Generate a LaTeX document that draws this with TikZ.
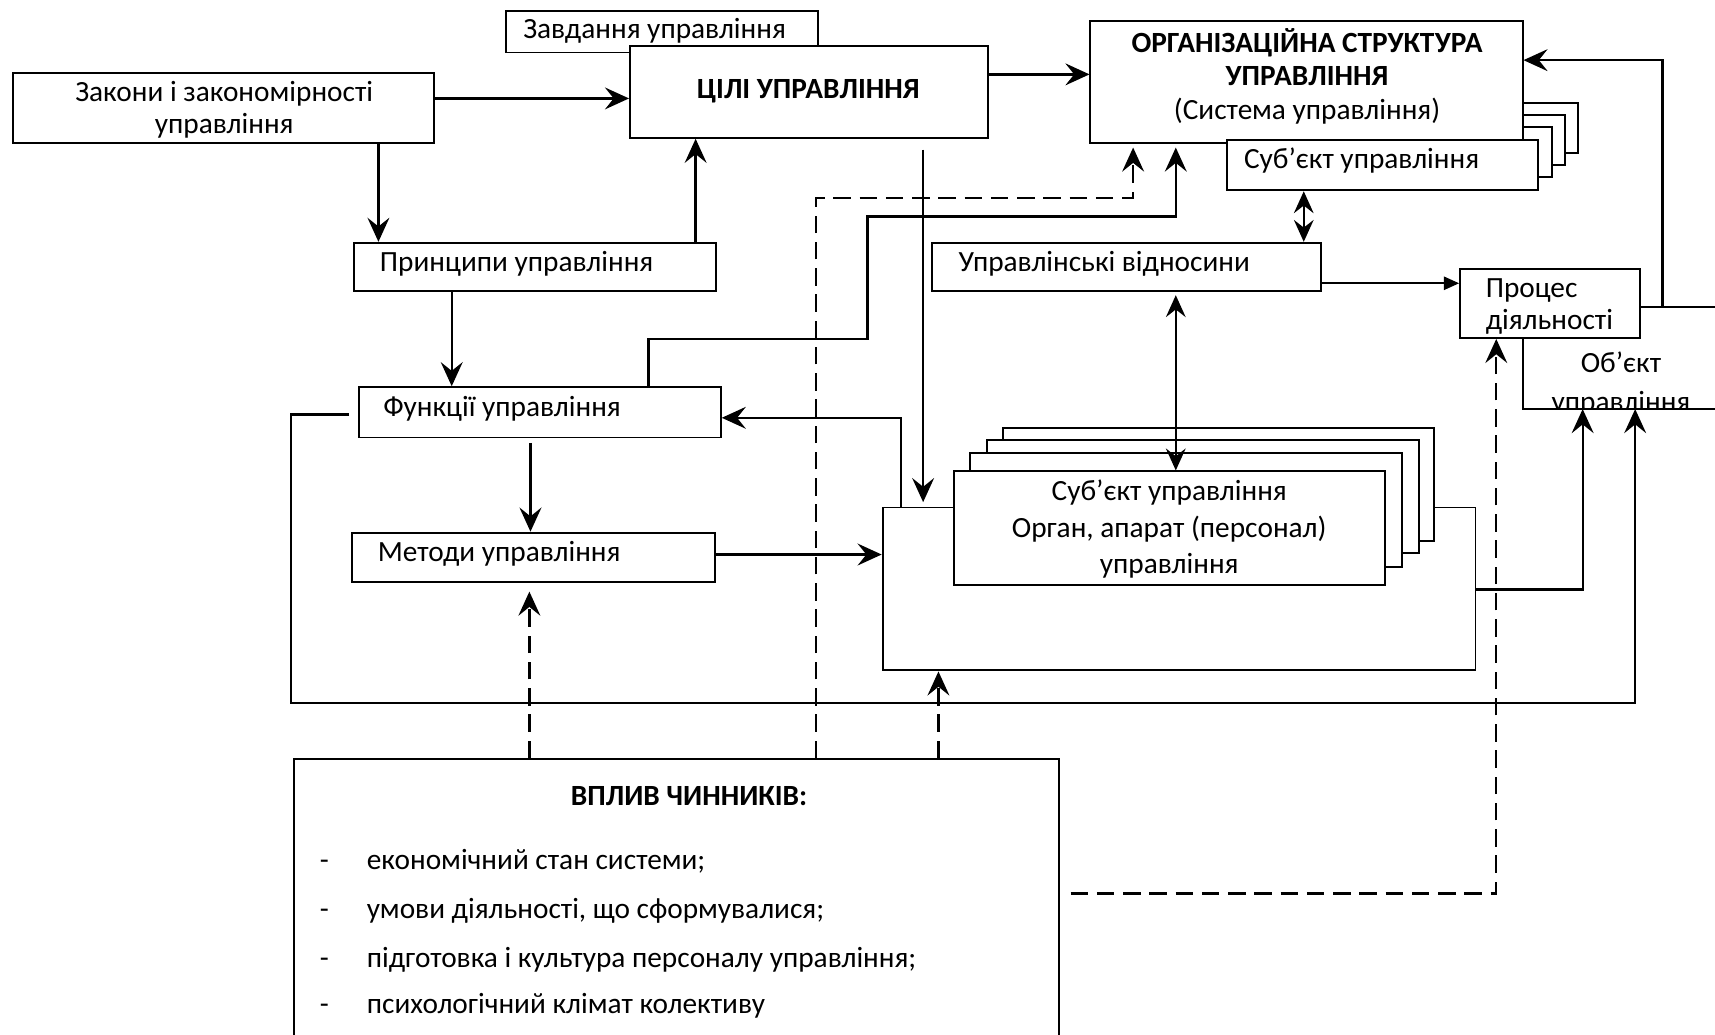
\documentclass[tikz,border=0pt]{standalone}
\usepackage{fontspec}
\setmainfont{Carlito}
\usetikzlibrary{arrows.meta,fit}
\newcommand\fs{\fontsize{13.4}{15}\selectfont}
\begin{document}
\begin{tikzpicture}[x=0.5pt,y=-0.5pt,
  box/.style={draw, line width=0.9pt, fill=white, inner sep=0pt, rectangle},
  t/.style={inner sep=0pt, font=\fs},
  tb/.style={inner sep=0pt, font=\fs\bfseries},
  arr/.style={-{Stealth[length=11pt,width=10pt,inset=4pt]}, line width=1.05pt},
  darr/.style={{Stealth[length=10pt,width=9pt,inset=3.5pt]}-{Stealth[length=10pt,width=9pt,inset=3.5pt]}, line width=1.05pt},
  tarr/.style={-{Triangle[length=7pt,width=6pt]}, line width=1.05pt},
  dsh/.style={dash pattern=on 8pt off 4pt},
  ln/.style={line width=0.9pt}]
\useasboundingbox (0,0) rectangle (1568,946);
\fill[white] (0,0) rectangle (1568,946);

% ---------- boxes ----------
\node[box, fit={(463,10) (748,48)}] (zav) {};
\node[box, fit={(12,67) (397,131)}] (zak) {};
\node[box, fit={(576,42) (903,126)}] (cili) {};
\node[box, fit={(1158,94) (1443,140)}] (orgl3) {};
\node[box, fit={(1146,105) (1431,151)}] (orgl2) {};
\node[box, fit={(1134,116) (1419,162)}] (orgl1) {};
\node[box, fit={(997,19) (1392,131)}] (org) {};
\node[box, fit={(1122,128) (1406,174)}] (subj) {};
\node[box, fit={(852,222) (1208,266)}] (upr) {};
\node[box, fit={(324,222) (655,266)}] (prin) {};
\node[box, fit={(1335,246) (1499,309)}] (proc) {};
\node[box, fit={(328,354) (659,400)}] (fun) {};
\node[box, fit={(322,487) (654,532)}] (met) {};
\node[box, fit={(807,464) (1349,613)}] (big) {};
\node[box, fit={(917,391) (1311,495)}] (sl3) {};
\node[box, fit={(902,402) (1297,506)}] (sl2) {};
\node[box, fit={(887,414) (1282,518)}] (sl1) {};
\node[box, fit={(872,431) (1266,535)}] (sfront) {};
\node[box, fit={(269,694) (968,990)}] (vpl) {};

% ---------- texts ----------
\node[t, anchor=base] (zak1) at (205,93) {Закони і закономірності};
\node[t, anchor=base] (zak2) at (205,122) {управління};
\node[t, anchor=base west] (zavt) at (478,35) {Завдання управління};
\node[tb, anchor=base] (cilit) at (739,90) {ЦІЛІ УПРАВЛІННЯ};
\node[tb, anchor=base] (org1) at (1195,48) {ОРГАНІЗАЦІЙНА СТРУКТУРА};
\node[tb, anchor=base] (org2) at (1195,78) {УПРАВЛІННЯ};
\node[t, anchor=base] (org3) at (1195,109) {(Система управління)};
\node[t, anchor=base west] (subjt) at (1137,154) {Суб’єкт управління};
\node[t, anchor=base west] (uprt) at (876,248) {Управлінські відносини};
\node[t, anchor=base west] (print) at (347,248) {Принципи управління};
\node[t, anchor=base west] (proc1) at (1358,272) {Процес};
\node[t, anchor=base west] (proc2) at (1358,301) {діяльності};
\node[t, anchor=base] (obj1) at (1482,341) {Об’єкт};
\begin{scope}
\clip (1393,350) rectangle (1568,374);
\node[t, anchor=base] (obj2) at (1482,376) {управління};
\end{scope}
\node[t, anchor=base west] (funt) at (350,381) {Функції управління};
\node[t, anchor=base west] (mett) at (345,513) {Методи управління};
\node[t, anchor=base] (s1) at (1069,458) {Суб’єкт управління};
\node[t, anchor=base] (s2) at (1069,491) {Орган, апарат (персонал)};
\node[t, anchor=base] (s3) at (1069,524) {управління};
\node[tb, anchor=base] (vplt) at (630,736) {ВПЛИВ ЧИННИКІВ:};
\node[t, anchor=base west] (d1) at (292,795) {-};
\node[t, anchor=base west] (i1) at (335,795) {економічний стан системи;};
\node[t, anchor=base west] (d2) at (292,840) {-};
\node[t, anchor=base west] (i2) at (335,840) {умови діяльності, що сформувалися;};
\node[t, anchor=base west] (d3) at (292,885) {-};
\node[t, anchor=base west] (i3) at (335,885) {підготовка і культура персоналу управління;};
\node[t, anchor=base west] (d4) at (292,927) {-};
\node[t, anchor=base west] (i4) at (335,927) {психологічний клімат колективу};

% ---------- object of management (open shape) ----------
\draw[ln] (proc.south -| 1392,0) -- (1392,374) -- (1568,374);
\draw[ln] (proc.east |- 0,281) -- (1568,281);

% ---------- connectors ----------
\draw[arr] (zak.east |- 0,90) -- (cili.west |- 0,90);
\draw[arr] (zak.south -| 346,0) -- (prin.north -| 346,0);
\draw[arr] (prin.north -| 636,0) -- (cili.south -| 636,0);
\draw[arr] (prin.south -| 413,0) -- (fun.north -| 413,0);
\draw[arr, shorten <=2pt] (fun.south -| 485,0) -- (met.north -| 485,0);
\draw[arr] (met.east |- 0,507) -- (big.west |- 0,507);
\draw[arr] (cili.east |- 0,68) -- (org.west |- 0,68);
\draw[arr, shorten <=5pt, shorten >=2pt] (cili.south -| 844,0) -- (big.north -| 844,0);
\draw[arr] (big.north -| 824,0) -- (824,382) -- (fun.east |- 0,382);
\draw[arr, shorten >=1.5pt] (fun.north -| 593,0) -- (593,310) -- (793,310) -- (793,198) -- (1075,198) -- (org.south -| 1075,0);
\draw[arr, dsh, shorten >=1.5pt] (vpl.north -| 746,0) -- (746,181) -- (1036,181) -- (org.south -| 1036,0);
\draw[arr, dsh, shorten >=4pt] (vpl.north -| 484,0) -- (met.south -| 484,0);
\draw[arr, dsh] (vpl.north -| 858,0) -- (big.south -| 858,0);
\draw[arr, dsh, shorten <=5pt] (vpl.east |- 0,817) -- (1368,817) -- (proc.south -| 1368,0);
\draw[darr] (subj.south -| 1192,0) -- (upr.north -| 1192,0);
\draw[darr, shorten <=1.5pt] (upr.south -| 1075,0) -- (sfront.north -| 1075,0);
\draw[tarr] (upr.east |- 0,259) -- (proc.west |- 0,259);
\draw[arr] (1520,281) -- (1520,55) -- (org.east |- 0,55);
\draw[arr] (big.east |- 0,539) -- (1447,539) -- (1447,374);
\draw[arr, shorten <=4pt] (fun.west |- 0,379) -- (266,379) -- (266,643) -- (1495,643) -- (1495,374);
\end{tikzpicture}
\end{document}
